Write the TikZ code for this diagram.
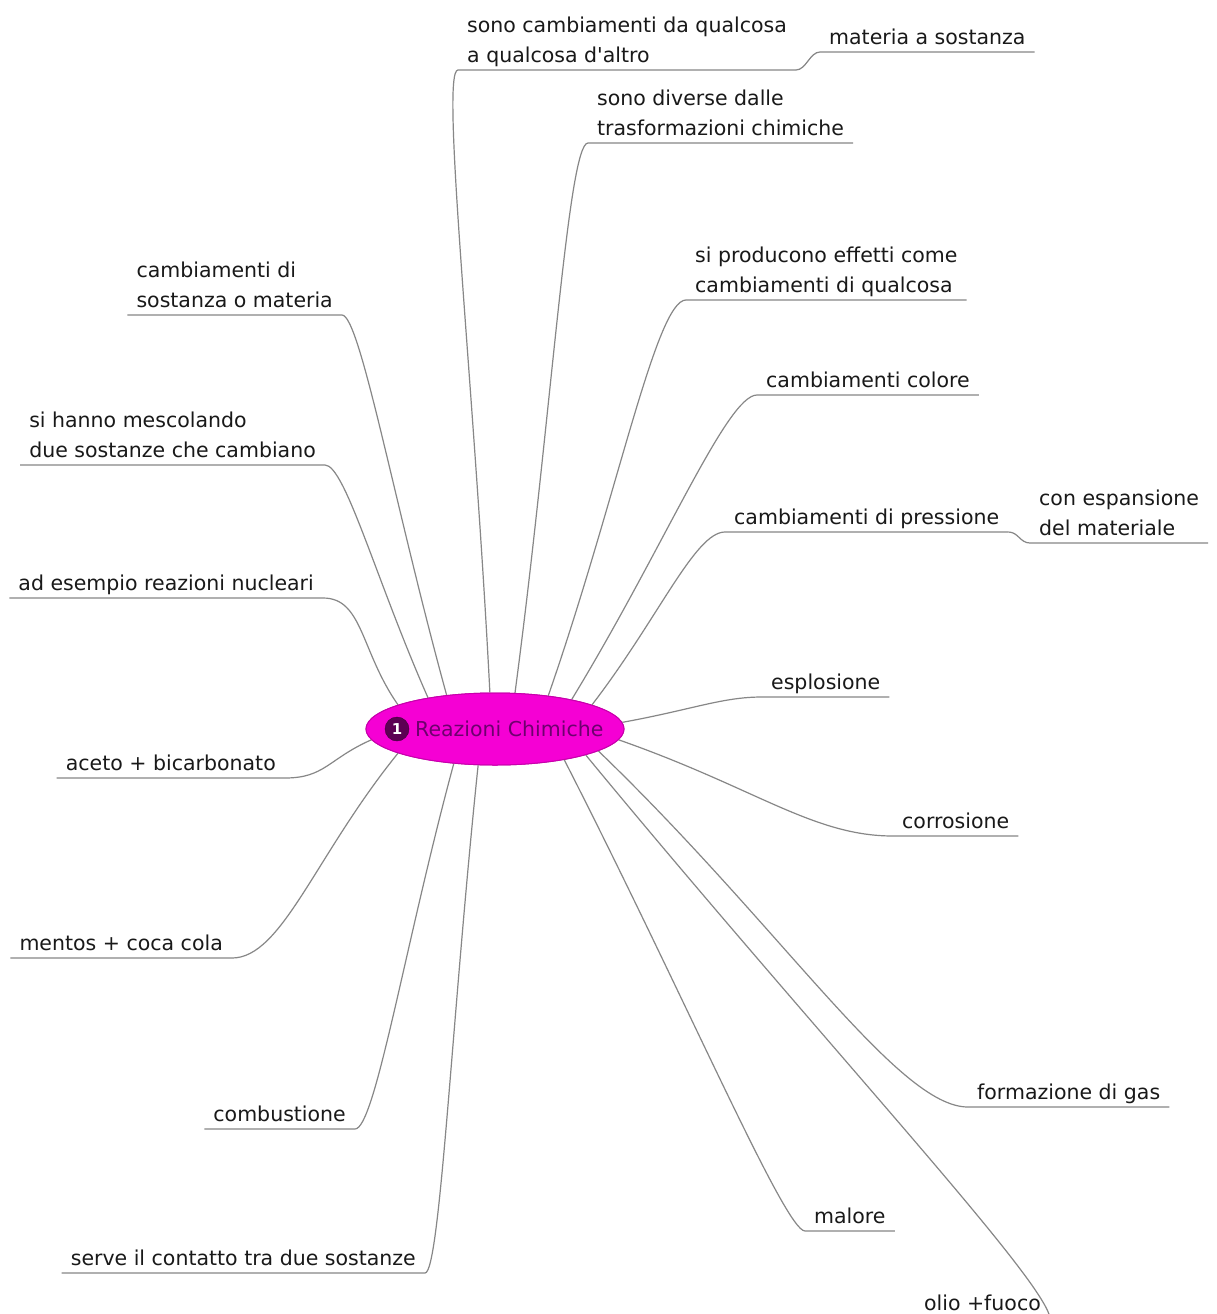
\documentclass[tikz,border=0pt]{standalone}
\usepackage{fontspec}
\setmainfont{DejaVu Sans}
\usetikzlibrary{shapes.geometric,calc}

\definecolor{hubfill}{RGB}{245,0,212}
\definecolor{hubedge}{RGB}{200,0,172}
\definecolor{hubtext}{RGB}{110,0,110}
\definecolor{badgefill}{RGB}{92,0,84}
\definecolor{wirecol}{RGB}{135,135,135}
\definecolor{ink}{RGB}{25,25,25}

% connector from the hub to a topic on its right / left, ending in the topic's underline
\newcommand\hublinkR[3]{%
  \draw[wire] (C.#1) .. controls ($(C.#1)!0.5!(#2.south west)$) and ($(#2.south west)+(-#3,0)$) .. (#2.south west) -- (#2.south east);}
\newcommand\hublinkL[3]{%
  \draw[wire] (C.#1) .. controls ($(C.#1)!0.5!(#2.south east)$) and ($(#2.south east)+(#3,0)$) .. (#2.south east) -- (#2.south west);}

\tikzset{
  wire/.style={draw=wirecol, line width=1.2pt},
  leaf/.style={font=\fontsize{20.5pt}{30pt}\selectfont, text=ink, align=left,
    inner xsep=9pt, inner ysep=2pt, text depth=5pt},
  hub/.style={ellipse, fill=hubfill, draw=hubedge, line width=1pt,
    minimum width=258pt, minimum height=72pt, inner sep=0pt},
  badge/.style={circle, fill=badgefill, draw=badgefill!70!black, minimum size=24pt,
    inner sep=0pt, text=white, font=\bfseries\fontsize{15pt}{15pt}\selectfont},
  title/.style={font=\fontsize{20.5pt}{24pt}\selectfont, text=hubtext, inner sep=0pt},
}

\begin{document}
\begin{tikzpicture}[x=1pt, y=-1pt]
\useasboundingbox[fill=white] (0,0) rectangle (1217,1314);

% central topic
\node[hub] (C) at (495,729) {};
\node[badge] (B) at (397,729) {1};
\node[title, anchor=west] (T) at (415,729) {Reazioni Chimiche};

% topics on the right
\node[leaf, anchor=south west] (n1) at (458,70) {sono cambiamenti da qualcosa\\a qualcosa d\textquotesingle altro};
\node[leaf, anchor=south west] (n1a) at (820,52) {materia a sostanza};
\node[leaf, anchor=south west] (n2) at (588,143) {sono diverse dalle\\trasformazioni chimiche};
\node[leaf, anchor=south west] (n3) at (686,300) {si producono effetti come\\cambiamenti di qualcosa};
\node[leaf, anchor=south west] (n4) at (757,395) {cambiamenti colore};
\node[leaf, anchor=south west] (n5) at (725,532) {cambiamenti di pressione};
\node[leaf, anchor=south west] (n5a) at (1030,543) {con espansione\\del materiale};
\node[leaf, anchor=south west] (n6) at (762,697) {esplosione};
\node[leaf, anchor=south west] (n7) at (893,836) {corrosione};
\node[leaf, anchor=south west] (n8) at (968,1107) {formazione di gas};
\node[leaf, anchor=south west] (n9) at (805,1231) {malore};
\node[leaf, anchor=south east] (n10) at (1050,1318) {olio +fuoco};

% topics on the left
\node[leaf, anchor=south east] (m1) at (342,315) {cambiamenti di\\sostanza o materia};
\node[leaf, anchor=south east] (m2) at (325,465) {si hanno mescolando\\due sostanze che cambiano};
\node[leaf, anchor=south east] (m3) at (323,598) {ad esempio reazioni nucleari};
\node[leaf, anchor=south east] (m4) at (285,778) {aceto + bicarbonato};
\node[leaf, anchor=south east] (m5) at (232,958) {mentos + coca cola};
\node[leaf, anchor=south east] (m6) at (355,1129) {combustione};
\node[leaf, anchor=south east] (m7) at (425,1273) {serve il contatto tra due sostanze};

% connectors
\hublinkR{98}{n1}{18}
\draw[wire] (n1.south east) .. controls +(10,0) and +(-10,0) .. (n1a.south west) -- (n1a.south east);
\hublinkR{61}{n2}{20}
\hublinkR{32}{n3}{30}
\hublinkR{21}{n4}{30}
\hublinkR{14}{n5}{30}
\draw[wire] (n5.south east) .. controls +(10,0) and +(-10,0) .. (n5a.south west) -- (n5a.south east);
\hublinkR{3}{n6}{40}
\hublinkR{-5}{n7}{80}
\hublinkR{-12.6}{n8}{70}
\hublinkR{-24.6}{n9}{20}
\draw[wire] (C.-16.2) .. controls ($(C.-16.2)!0.5!(n10.south east)$) and ($(n10.south east)+(-6,-40)$) .. (n10.south east) -- (n10.south west);

\hublinkL{145}{m1}{18}
\hublinkL{155}{m2}{20}
\hublinkL{166}{m3}{40}
\hublinkL{-175}{m4}{40}
\hublinkL{-166}{m5}{50}
\hublinkL{-140}{m6}{20}
\hublinkL{-115}{m7}{15}

% redraw the hub so connector ends tuck under it
\node[hub] at (C) {};
\node[badge] at (B) {1};
\node[title, anchor=west] at (T.west) {Reazioni Chimiche};
\end{tikzpicture}
\end{document}
